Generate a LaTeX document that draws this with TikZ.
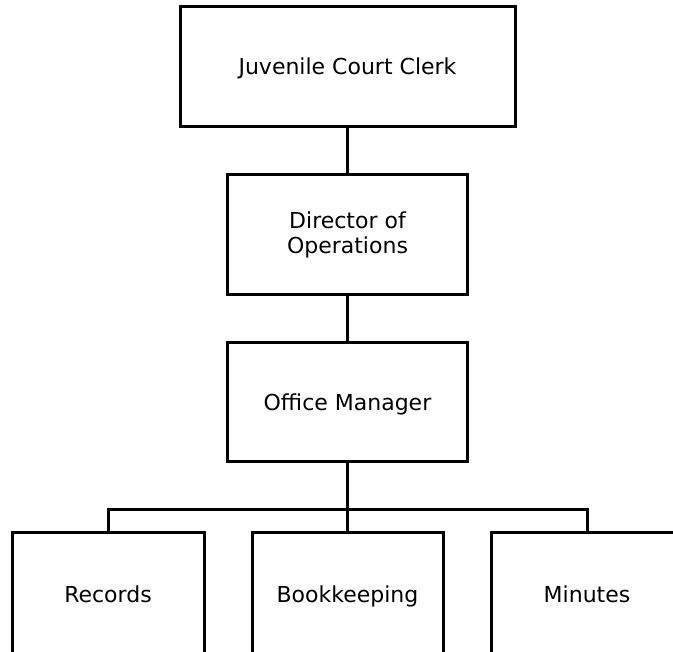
\documentclass[tikz,border=0pt]{standalone}
\usepackage{fontspec}
\setmainfont{DejaVu Sans}
\begin{document}
\begin{tikzpicture}[x=1pt,y=-1pt,
  orgbox/.style={draw=black,line width=3pt,fill=white,rectangle,align=center,
    inner sep=0pt,font=\fontsize{22}{25.5}\selectfont},
  oneline/.style={text height=18pt,text depth=2pt},
  link/.style={draw=black,line width=3pt}]
  \useasboundingbox (0,0) rectangle (673,652);
  % boxes
  \node[orgbox,oneline,minimum width=335pt,minimum height=120pt] (clerk) at (347.5,67) {Juvenile Court Clerk};
  \node[orgbox,minimum width=240pt,minimum height=120pt] (dir) at (347.5,235) {Director of\\Operations};
  \node[orgbox,oneline,minimum width=240pt,minimum height=119pt] (om) at (347.5,402.5) {Office Manager};
  \node[orgbox,oneline,minimum width=192pt,minimum height=122pt] (rec) at (108,594) {Records};
  \node[orgbox,oneline,minimum width=191pt,minimum height=122pt] (bk) at (347.5,594) {Bookkeeping};
  \node[orgbox,oneline,minimum width=192pt,minimum height=122pt] (mins) at (587,594) {Minutes};
  % connectors
  \coordinate (bus) at (347.5,510);
  \draw[link] (clerk.south) -- (dir.north);
  \draw[link] (dir.south) -- (om.north);
  \draw[link] (om.south) -- (bk.north);
  \draw[link] (rec.north) |- (bus) -| (mins.north);
\end{tikzpicture}
\end{document}
